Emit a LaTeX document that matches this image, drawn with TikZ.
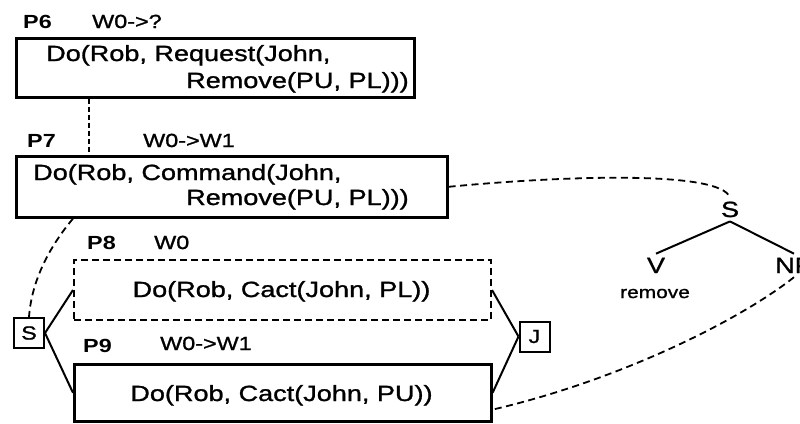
\documentclass[tikz,border=0pt]{standalone}
\usepackage{fontspec}
\setmainfont{Liberation Sans}[FakeStretch=1.23]
\newfontfamily\heavyfont{Liberation Sans}[FakeStretch=1.23, FakeBold=1.2]
\usetikzlibrary{calc}
\begin{document}
\begin{tikzpicture}[x=1pt,y=-1pt,
  box/.style={draw, line width=2.6pt, anchor=north west, inner sep=0pt},
  dbox/.style={draw, line width=2pt, dash pattern=on 7pt off 4pt, anchor=north west, inner sep=0pt},
  txt/.style={inner sep=0pt, font=\heavyfont\fontsize{22}{26}\selectfont},
  lbl/.style={inner sep=0pt, anchor=base west, font=\heavyfont\fontsize{19}{22}\selectfont},
  plbl/.style={inner sep=0pt, anchor=base west, font=\fontsize{19}{22}\selectfont\bfseries},
  sj/.style={draw, line width=2pt, minimum width=30pt, minimum height=30pt, inner sep=0pt, font=\heavyfont\fontsize{19}{22}\selectfont},
  conn/.style={line width=2pt},
  dconn/.style={line width=1.8pt, dash pattern=on 7pt off 4.5pt},
  vdash/.style={line width=1.8pt, dash pattern=on 5pt off 3pt},
  treenode/.style={inner sep=4pt, font=\heavyfont\fontsize{22}{26}\selectfont}
]
\useasboundingbox (0,0) rectangle (800,423);
\fill[white] (0,0) rectangle (800,423);

% boxes
\node[box, minimum width=398pt, minimum height=59pt] (p6) at (15,37) {};
\node[box, minimum width=431pt, minimum height=61pt] (p7) at (15,155) {};
\node[dbox, minimum width=417pt, minimum height=60pt] (p8) at (73,259) {};
\node[box, minimum width=417pt, minimum height=57pt] (p9) at (73,363) {};

% labels
\node[plbl] (p6l) at (23,28) {P6};
\node[lbl] (p6w) at (92,28) {W0->?};
\node[plbl] (p7l) at (27,147) {P7};
\node[lbl] (p7w) at (143,147) {W0->W1};
\node[plbl] (p8l) at (87,249) {P8};
\node[lbl] (p8w) at (154,249) {W0};
\node[plbl] (p9l) at (83,352) {P9};
\node[lbl] (p9w) at (160,350) {W0->W1};

% box texts
\node[txt, anchor=base west] (p6a) at (46,61) {Do(Rob, Request(John,};
\node[txt, anchor=base west] (p6b) at (186,88) {Remove(PU, PL)))};
\node[txt, anchor=base west] (p7a) at (33,180) {Do(Rob, Command(John,};
\node[txt, anchor=base west] (p7b) at (186,205) {Remove(PU, PL)))};
\node[txt, anchor=base] (p8t) at (281.5,297) {Do(Rob, Cact(John, PL))};
\node[txt, anchor=base] (p9t) at (281.5,401) {Do(Rob, Cact(John, PU))};

% S and J
\node[sj] (sb) at (29,333) {S};
\node[sj] (jb) at (534.5,336.5) {J};

\draw[conn] (sb.east) -- (p8.west);
\draw[conn] (sb.east) -- (p9.west);
\draw[conn] (jb.west) -- (p8.east);
\draw[conn] (jb.west) -- (p9.east);

% tree
\node[treenode, anchor=base] (ts) at (730,217) {S};
\node[treenode, anchor=base] (tv) at (656,273) {V};
\node[treenode, anchor=base west] (tnp) at (771,273) {NP};
\node[inner sep=0pt, anchor=base, font=\heavyfont\fontsize{17}{20}\selectfont] (trm) at (655,298) {remove};
\draw[conn] (ts.south) -- (tv.north);
\draw[conn] (ts.south) -- (tnp.north);

% dashed connectors
\draw[vdash] ($(p6.south west)+(74,0)$) -- ($(p7.north west)+(74,0)$);
\draw[dconn] ($(p7.south west)+(58,0)$) .. controls (55,240) and (32,275) .. (sb.north);
\draw[dconn] (p7.east) .. controls (560,176) and (720,170) .. (ts.north);
\draw[dconn] (tnp.south) .. controls (740,320) and (620,380) .. ($(p9.south east)+(0,-13)$);
\end{tikzpicture}
\end{document}
